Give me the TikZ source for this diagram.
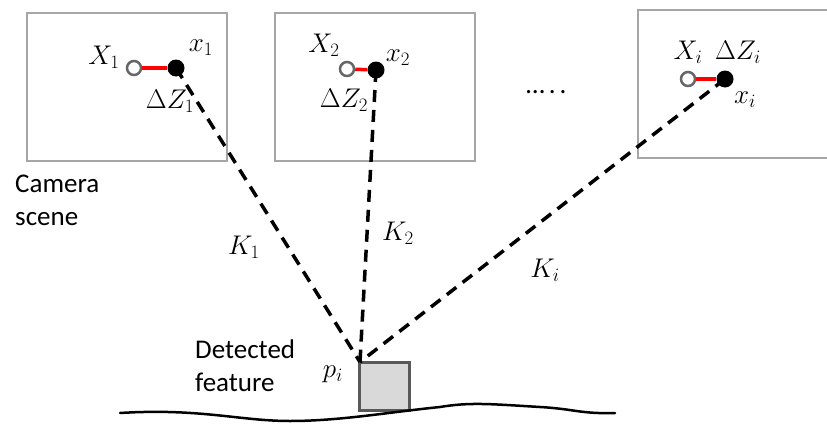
\documentclass[tikz,border=0pt]{standalone}
\usepackage{fix-cm}
\usepackage{fontspec}
\setmainfont{Carlito}
\begin{document}
\begin{tikzpicture}[x=1pt,y=-1pt,
  txt/.style={font=\fontsize{27}{33}\selectfont, inner sep=0pt, align=left},
  lbl/.style={font=\fontsize{27}{30}\selectfont, inner sep=0pt},
  scene/.style={draw=black!35, line width=1.5pt},
  opencirc/.style={circle, draw=black!60, line width=2.5pt, fill=white, minimum size=14pt, inner sep=0pt},
  fillcirc/.style={circle, fill=black, minimum size=17pt, inner sep=0pt},
  redshift/.style={red, line width=3.5pt},
  ray/.style={line width=3.5pt, dash pattern=on 12pt off 8pt},
  feat/.style={draw=black!65, fill=black!15, line width=3pt}]
\useasboundingbox (0,0) rectangle (827,423);
% camera frames
\draw[scene] (27,13) rectangle (227,161);
\draw[scene] (275,13) rectangle (475,161);
\draw[scene] (830,10) -- (638,10) -- (638,158) -- (830,158);
% detected feature
\draw[feat] (359,362) rectangle (409,410);
\coordinate (p) at (360,362);
% ground
\draw[line width=2.5pt, line cap=round] (120,413) .. controls (200,408) and (240,421) .. (290,421)
  .. controls (340,421) and (390,412) .. (440,407)
  .. controls (470,402) and (490,404) .. (540,407)
  .. controls (575,409) and (580,414) .. (615,413);
% points
\node[opencirc] (o1) at (134,68) {};
\node[fillcirc] (f1) at (176,68) {};
\node[opencirc] (o2) at (347,69) {};
\node[fillcirc] (f2) at (376,70) {};
\node[opencirc] (o3) at (688,79) {};
\node[fillcirc] (f3) at (725,79) {};
\draw[redshift] (o1) -- (f1);
\draw[redshift] (o2) -- (f2);
\draw[redshift] (o3) -- (f3);
% rays
\draw[ray] (f1.center) -- (p);
\draw[ray] (f2.center) -- (p);
\draw[ray] (f3.center) -- (p);
% labels
\node[lbl] (X1) at (104,57) {$X_1$};
\node[lbl] (x1) at (201,48) {$x_1$};
\node[lbl] (dZ1) at (170,101) {$\Delta Z_1$};
\node[lbl] (X2) at (324,45) {$X_2$};
\node[lbl] (x2) at (398,58) {$x_2$};
\node[lbl] (dZ2) at (344,100) {$\Delta Z_2$};
\node[lbl] (X3) at (688,52) {$X_i$};
\node[lbl] (dZ3) at (738,52) {$\Delta Z_i$};
\node[lbl] (x3) at (745,100) {$x_i$};
\node[lbl] (K1) at (244,247) {$K_1$};
\node[lbl] (K2) at (398,233) {$K_2$};
\node[lbl] (K3) at (545,270) {$K_i$};
\node[lbl] (pi) at (333,374) {$p_i$};
\node[txt, anchor=west] (dots) at (526,92) {…\hspace{4pt}.\hspace{4pt}.};
\node[txt, anchor=north west] (cam) at (15,175) {Camera\\scene};
\node[txt, anchor=north west] (det) at (195,340) {Detected\\feature};
\end{tikzpicture}
\end{document}
